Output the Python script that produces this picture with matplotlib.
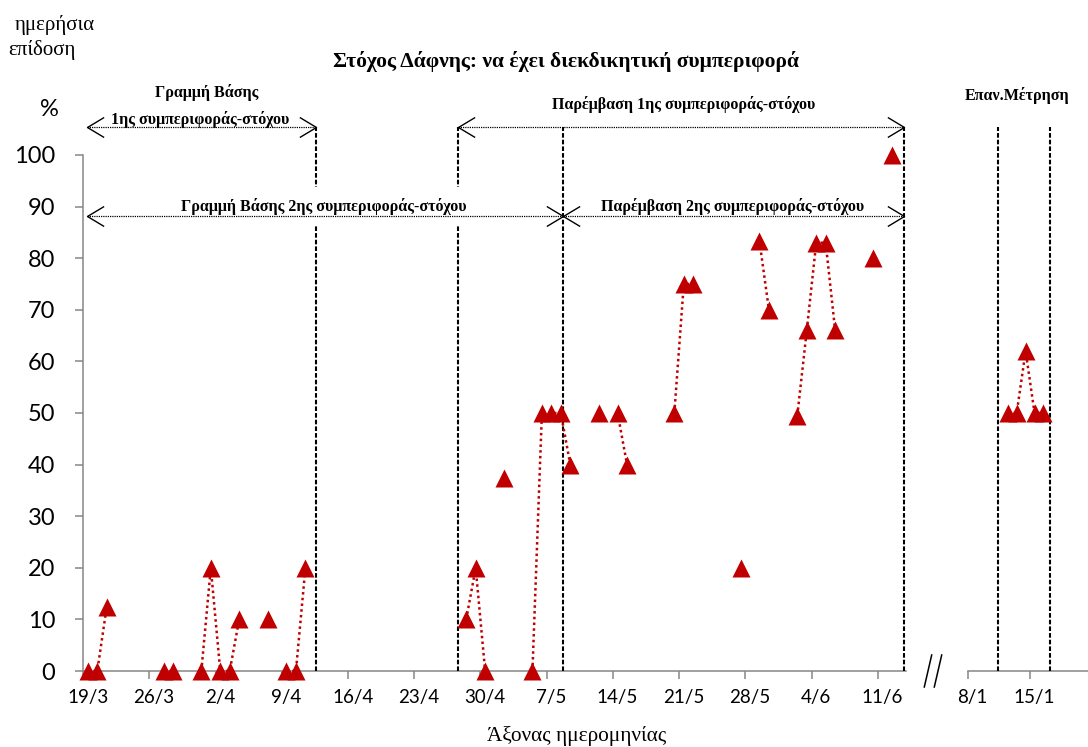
import numpy as np
import pandas as pd
import matplotlib
matplotlib.use('Agg')
import matplotlib.pyplot as plt
from matplotlib.path import Path
from matplotlib.lines import Line2D

# Daily score (%) for the baseline/intervention period (day/month).
dates_1 = ['19/3', '20/3', '21/3', '27/3', '28/3', '31/3', '1/4', '2/4', '3/4',
           '4/4', '7/4', '9/4', '10/4', '11/4', '28/4', '29/4', '30/4', '2/5',
           '5/5', '6/5', '7/5', '8/5', '9/5', '12/5', '14/5', '15/5', '20/5',
           '21/5', '22/5', '27/5', '29/5', '30/5', '2/6', '3/6', '4/6', '5/6',
           '6/6', '10/6', '12/6']
values_1 = [0, 0, 12.5, 0, 0, 0, 20, 0, 0,
            10, 10, 0, 0, 20, 10, 20, 0, 37.5,
            0, 50, 50, 50, 40, 50, 50, 40, 50,
            75, 75, 20, 83.3, 70, 49.5, 66, 83, 83,
            66, 80, 100]

# Follow-up measurement in January.
dates_2 = ['12/1', '13/1', '14/1', '15/1', '16/1']
values_2 = [50, 50, 62, 50, 50]

tick_labels_1 = ['19/3', '26/3', '2/4', '9/4', '16/4', '23/4', '30/4', '7/5',
                 '14/5', '21/5', '28/5', '4/6', '11/6']
tick_labels_2 = ['8/1', '15/1']
y_ticks = [0, 10, 20, 30, 40, 50, 60, 70, 80, 90, 100]

START_1 = '2012-03-19'
START_2 = '2013-01-08'

# Phase change lines, in days from the start of each segment.
phase_lines_1 = [24.6, 39.6, 50.7, 86.8]
phase_lines_2 = [3.4, 9.25]

RED = '#C00000'
GREY = '#868686'
SERIF = 'Liberation Serif'
SANS = ['Lato', 'DejaVu Sans']

W, H = 1088, 747


def day_offsets(dates, start):
    year = start[:4]
    idx = pd.to_datetime([f'{d}/{year}' for d in dates], format='%d/%m/%Y')
    return np.asarray((idx - pd.Timestamp(start)).days)


def daily_series(dates, values, start):
    """Full daily series with NaN on missing days, so only consecutive days join."""
    idx = pd.to_datetime([f'{d}/{start[:4]}' for d in dates], format='%d/%m/%Y')
    s = pd.Series(values, index=idx, dtype=float)
    s = s.reindex(pd.date_range(start, idx.max()))
    days = np.asarray((s.index - pd.Timestamp(start)).days)
    return days + 0.5, s.values


def date_axis(ax, labels, start, xmax):
    ticks = day_offsets(labels, start)
    ax.set_xlim(0, xmax)
    ax.set_xticks(ticks)
    ax.set_xticklabels([])
    ax.set_xticks(ticks + 0.5, minor=True)
    ax.set_xticklabels(labels, minor=True, family=SANS, fontsize=13.5)
    ax.tick_params(axis='x', which='major', length=6, width=1.1, color=GREY, direction='out')
    ax.tick_params(axis='x', which='minor', length=0, pad=13)
    for side in ('top', 'right', 'left'):
        ax.spines[side].set_visible(False)
    ax.spines['bottom'].set_color(GREY)
    ax.spines['bottom'].set_linewidth(1.1)


def data_line(ax, dates, values, start):
    x, y = daily_series(dates, values, start)
    ax.plot(x, y, color=RED, lw=1.8, ls=(0, (1, 1.3)), marker='^', ms=12.5,
            mec='none', mfc=RED, clip_on=False, zorder=7)


CHEV_R = Path([(-1, 0.6), (0, 0), (-1, -0.6)], [Path.MOVETO, Path.LINETO, Path.LINETO])
CHEV_L = Path([(1, 0.6), (0, 0), (1, -0.6)], [Path.MOVETO, Path.LINETO, Path.LINETO])


def span_arrow(ax, x0, x1, y):
    ax.plot([x0, x1], [y, y], color='black', lw=0.9, ls=(0, (1, 0.8)), clip_on=False, zorder=6)
    ax.plot([x0], [y], marker=CHEV_L, ms=24, mfc='none', mec='black', mew=1.0,
            clip_on=False, zorder=6)
    ax.plot([x1], [y], marker=CHEV_R, ms=24, mfc='none', mec='black', mew=1.0,
            clip_on=False, zorder=6)


fig = plt.figure(figsize=(W / 100, H / 100), dpi=100)
ax1 = fig.add_axes([83.1 / W, 76 / H, 823 / W, 516 / H])
ax2 = fig.add_axes([967.7 / W, 76 / H, 120.3 / W, 516 / H])

for ax in (ax1, ax2):
    ax.set_ylim(0, 100)

date_axis(ax1, tick_labels_1, START_1, 87)
date_axis(ax2, tick_labels_2, START_2, 13.5)

ax1.spines['left'].set_visible(True)
ax1.spines['left'].set_color(GREY)
ax1.spines['left'].set_linewidth(1.1)
ax1.set_yticks(y_ticks)
ax1.set_yticklabels([str(v) for v in y_ticks], family=SANS, fontsize=17)
ax1.tick_params(axis='y', length=6, width=1.1, color=GREY, pad=14)
ax2.set_yticks([])

data_line(ax1, dates_1, values_1, START_1)
data_line(ax2, dates_2, values_2, START_2)

top_y = 105.4
row2_y = 88.2
dash = dict(color='black', lw=1.5, ls=(0, (2.2, 1)), clip_on=False, zorder=3)
ax1.vlines(phase_lines_1, 0, top_y, **dash)
ax2.vlines(phase_lines_2, 0, top_y, **dash)

# Phase arrows
span_arrow(ax1, 0.4, phase_lines_1[0], top_y)
span_arrow(ax1, phase_lines_1[1], phase_lines_1[3], top_y)
span_arrow(ax1, 0.4, phase_lines_1[2], row2_y)
span_arrow(ax1, phase_lines_1[2], phase_lines_1[3], row2_y)

bold = dict(family=SERIF, fontweight='bold', fontsize=11.5, ha='center', va='center')
ax1.text(13.1, 112.2, 'Γραμμή Βάσης', **bold)
ax1.text(12.4, 106.9, '1ης συμπεριφοράς-στόχου', **bold)
ax1.text(63.5, 109.7, 'Παρέμβαση 1ης συμπεριφοράς-στόχου', **bold)
ax1.text(25.4, 90.0, 'Γραμμή Βάσης 2ης συμπεριφοράς-στόχου', zorder=4,
         bbox=dict(facecolor='white', edgecolor='none', pad=8), **bold)
ax1.text(68.7, 90.0, 'Παρέμβαση 2ης συμπεριφοράς-στόχου', **bold)
ax2.text(5.5, 111.6, 'Επαν.Μέτρηση', **bold)

fig.text(566 / W, 1 - 62 / H, 'Στόχος Δάφνης: να έχει διεκδικητική συμπεριφορά',
         family=SERIF, fontweight='bold', fontsize=15.5, ha='center', va='center')
fig.text(15 / W, 1 - 25 / H, 'ημερήσια', family=SERIF, fontsize=15, ha='left', va='center')
fig.text(8 / W, 1 - 50 / H, 'επίδοση', family=SERIF, fontsize=15, ha='left', va='center')
fig.text(49 / W, 1 - 110 / H, '%', family=SANS, fontsize=17, ha='center', va='center')
fig.text(577 / W, 1 - 736 / H, 'Άξονας ημερομηνίας', family=SERIF, fontsize=15.3,
         ha='center', va='center')

# axis break mark
for x0 in (924.3, 934.3):
    fig.add_artist(Line2D([x0 / W, (x0 + 7.4) / W], [1 - 687 / H, 1 - 655 / H],
                          color='black', lw=1.1))

fig.savefig('out.png', dpi=100)
